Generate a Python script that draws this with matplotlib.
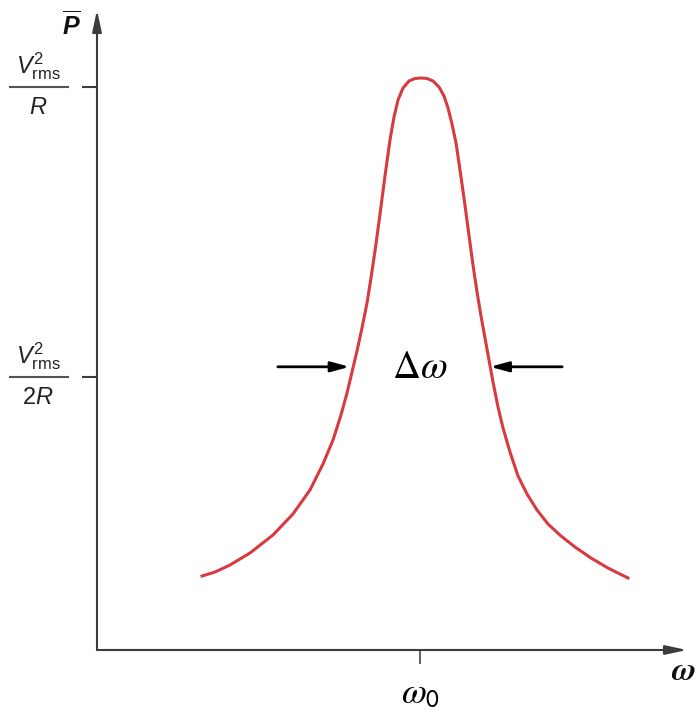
import numpy as np
import matplotlib
matplotlib.use("Agg")
import matplotlib.pyplot as plt

# resonance curve (omega in units of omega_0, P in units of Vrms^2/R)
omega = [0.3251, 0.3653, 0.4118, 0.4737, 0.5449, 0.6068, 0.6594, 0.6997, 0.7307,
         0.7554, 0.7740, 0.7895, 0.8050, 0.8204, 0.8359, 0.8483, 0.8638, 0.8762,
         0.8916, 0.9071, 0.9195, 0.9319, 0.9474, 0.9659, 0.9845, 1.0031,
         1.0217, 1.0402, 1.0588, 1.0743, 1.0867, 1.0991, 1.1115, 1.1238, 1.1362,
         1.1486, 1.1641, 1.1765, 1.1889, 1.2012, 1.2136, 1.2260, 1.2415, 1.2570,
         1.2786, 1.3034, 1.3313, 1.3622, 1.3963, 1.4365, 1.4799, 1.5294, 1.5820,
         1.6440]
power = [0.1314, 0.1385, 0.1510, 0.1723, 0.2043, 0.2416, 0.2842, 0.3304, 0.3730,
         0.4174, 0.4565, 0.4938, 0.5311, 0.5719, 0.6163, 0.6607, 0.7211, 0.7744,
         0.8419, 0.9059, 0.9467, 0.9769, 0.9982, 1.0107, 1.0151, 1.0160,
         1.0151, 1.0107, 1.0000, 0.9840, 0.9627, 0.9343, 0.9005, 0.8526, 0.8028,
         0.7496, 0.6838, 0.6359, 0.5932, 0.5542, 0.5151, 0.4760, 0.4316, 0.3943,
         0.3517, 0.3091, 0.2771, 0.2487, 0.2238, 0.2025, 0.1829, 0.1634, 0.1456,
         0.1279]

omega0 = 1.0
p_ticks = [1.0, 0.485]
p_denoms = ["R", "2R"]
# half-power points where the arrows end
half_left, half_right = 0.782, 1.217
p_half = 0.503

plt.rcParams['mathtext.fontset'] = 'custom'
plt.rcParams['mathtext.it'] = 'Liberation Sans:italic'
plt.rcParams['mathtext.rm'] = 'Liberation Sans'
plt.rcParams['mathtext.sf'] = 'Liberation Sans'
plt.rcParams['mathtext.bf'] = 'Liberation Sans:bold:italic'

axcol = '#3c3c3c'

fig = plt.figure(figsize=(6.96, 7.17), dpi=100)
ax = fig.add_axes([97/696, 67/717, 590/696, 640/717])
ax.set_xlim(0, 590/323)
ax.set_ylim(0, 640/563)
for s in ax.spines.values():
    s.set_visible(False)

# axes with arrow heads
arr = dict(arrowstyle='-|>,head_length=1.3,head_width=0.28', lw=1.5,
           color=axcol, shrinkA=0, shrinkB=0)
ax.annotate('', xy=(0, 1), xytext=(0, 0), xycoords='axes fraction', arrowprops=arr)
ax.annotate('', xy=(1, 0), xytext=(0, 0), xycoords='axes fraction', arrowprops=arr)

ax.plot(omega, power, color='#d83a40', lw=2.2, solid_joinstyle='round')

# ticks
ax.set_xticks([omega0], labels=[r'$\omega_{\mathsf{0}}$'], fontsize=26,
              math_fontfamily='stix')
ax.set_yticks(p_ticks, labels=['', ''])
ax.tick_params(axis='x', length=10, width=1.5, color='#666666', pad=9)
ax.tick_params(axis='y', length=11, width=1.5, color=axcol)

# fraction labels on the P axis
for p, den in zip(p_ticks, p_denoms):
    ax.plot([-0.269, -0.090], [p, p], color='#555555', lw=1.5, clip_on=False)
    ax.text(-0.183, p + 0.008, r'$V^{2}_{\mathrm{rms}}$', fontsize=17,
            ha='center', va='bottom', color='#222222')
    ax.text(-0.183, p - 0.014, '$' + den + '$', fontsize=17,
            ha='center', va='top', color='#222222')

ax.text(-0.08, 1.110, r'$\overline{\mathbf{P}}$', fontsize=18,
        ha='center', va='center', color='#111111')
ax.text(1.814, -0.04, 'ω', fontsize=24, family='STIXGeneral', style='italic',
        weight='bold', ha='center', va='center', color='#111111')

# bandwidth arrows
harr = dict(arrowstyle='-|>,head_length=1.1,head_width=0.3', lw=2,
            color='black', shrinkA=0, shrinkB=0)
ax.annotate('', xy=(half_left, p_half), xytext=(0.560, p_half), arrowprops=harr)
ax.annotate('', xy=(half_right, p_half), xytext=(1.440, p_half), arrowprops=harr)
ax.text(1.000, p_half, r'$\Delta\omega$', fontsize=28, math_fontfamily='stix',
        ha='center', va='center', color='black')

fig.savefig('out.png', dpi=100)
